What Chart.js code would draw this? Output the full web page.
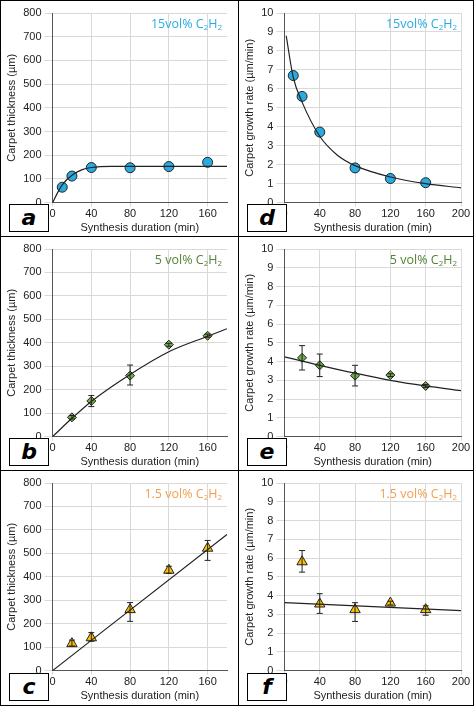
<!DOCTYPE html>
<html><head><meta charset="utf-8">
<script src="https://cdn.jsdelivr.net/npm/chart.js@4"></script>
<style>
body{margin:0;background:#fff;font-family:"Open Sans",sans-serif}
#fig{position:relative;width:472px;height:704px;border:1px solid #000}
.panel{position:absolute;box-sizing:border-box}
.panel canvas{position:absolute;left:0;top:0}
.tag{position:absolute;font-size:12.5px}
.tag sub{font-size:8px;vertical-align:-2px}
.letter{position:absolute;left:8px;bottom:4px;width:38px;height:26px;border:1px solid #000;background:#fff;
 font:italic bold 22px "DejaVu Sans",sans-serif;text-align:center;line-height:26px}
</style></head><body>
<div id="fig"></div>
<script>
// measured points
const xTime = [10, 20, 40, 80, 120, 160];
const xTime2 = [20, 40, 80, 120, 160];
const thick15 = [65, 112, 148, 147, 152, 170];
const rate15 = [6.7, 5.6, 3.72, 1.83, 1.27, 1.05];
const thick5 = [82, 152, 260, 392, 430];
const thick5Err = [[75, 90], [128, 175], [220, 305], [385, 398], [424, 437]];
const rate5 = [4.2, 3.8, 3.25, 3.28, 2.7];
const rate5Err = [[3.55, 4.85], [3.2, 4.4], [2.7, 3.8], [3.2, 3.35], [2.62, 2.78]];
const thick15b = [115, 140, 260, 428, 522];
const thick15bErr = [[105, 130], [125, 162], [210, 290], [415, 445], [470, 555]];
const rate15b = [5.8, 3.55, 3.25, 3.6, 3.25];
const rate15bErr = [[5.25, 6.4], [3.05, 4.1], [2.62, 3.62], [3.5, 3.7], [2.95, 3.45]];

// fitted curves
const fitA = [[0,0],[5,40],[10,75],[20,115],[30,138],[40,148],[60,153],[80,153],[180,153]];
const fitD = [[2,8.8],[10,6.6],[20,5.3],[40,3.5],[60,2.5],[80,1.95],[120,1.35],[160,1.0],[200,0.78]];
const fitB = [[0,0],[20,78],[40,150],[80,265],[120,362],[160,428],[180,460]];
const fitE = [[0,4.25],[40,3.8],[80,3.38],[120,3.0],[160,2.7],[200,2.45]];
const fitC = [[0,0],[180,580]];
const fitF = [[0,3.62],[200,3.2]];

const thickTicks = [0, 40, 80, 120, 160];
const rateTicks = [0, 40, 80, 120, 160, 200];

const errPlugin = {
  id: 'err',
  afterDatasetsDraw(chart) {
    const ds = chart.data.datasets[1];
    if (!ds || !ds.err) return;
    const {ctx, scales: {x, y}} = chart;
    ctx.save(); ctx.strokeStyle = '#222'; ctx.lineWidth = 1;
    ds.data.forEach((p, i) => {
      const [lo, hi] = ds.err[i];
      const px = x.getPixelForValue(p.x);
      ctx.beginPath();
      ctx.moveTo(px, y.getPixelForValue(lo)); ctx.lineTo(px, y.getPixelForValue(hi));
      [lo, hi].forEach(v => { const py = y.getPixelForValue(v); ctx.moveTo(px - 3, py); ctx.lineTo(px + 3, py); });
      ctx.stroke();
    });
    ctx.restore();
  }
};

function makePanel(o) {
  const div = document.createElement('div');
  div.className = 'panel';
  Object.assign(div.style, {left: o.left + 'px', top: o.top + 'px', width: o.w + 'px', height: o.h + 'px',
    borderRight: o.left === 0 ? '1px solid #000' : 'none', borderBottom: o.top < 450 ? '1px solid #000' : 'none'});
  const cv = document.createElement('canvas');
  cv.width = o.w; cv.height = o.h;
  div.appendChild(cv);
  const tag = document.createElement('div');
  tag.className = 'tag'; tag.style.color = o.tagColor; tag.style.right = '16px'; tag.style.top = '14px';
  tag.innerHTML = o.tag + ' C<sub>2</sub>H<sub>2</sub>';
  div.appendChild(tag);
  const let_ = document.createElement('div');
  let_.className = 'letter'; let_.textContent = o.letter;
  div.appendChild(let_);
  document.getElementById('fig').appendChild(div);

  const err = o.err;
  new Chart(cv, {
    type: 'scatter',
    data: {datasets: [
      {type: 'line', data: o.fit.map(p => ({x: p[0], y: p[1]})), borderColor: '#222', borderWidth: 1.2,
       pointRadius: 0, tension: 0.4, cubicInterpolationMode: 'monotone'},
      {data: o.xs.map((x, i) => ({x, y: o.ys[i]})), err, pointStyle: o.shape,
       pointRadius: o.shape === 'circle' ? 5 : (o.shape === 'triangle' ? 6 : 4.5),
       pointRotation: o.shape === 'rect' ? 45 : 0,
       backgroundColor: o.fill, borderColor: '#222', borderWidth: 1}
    ]},
    options: {
      animation: false, responsive: false,
      layout: {padding: {top: 12, right: 12, left: 2, bottom: 2}},
      plugins: {legend: {display: false}, tooltip: {enabled: false}},
      scales: {
        x: {type: 'linear', min: 0, max: o.xmax,
          afterBuildTicks: a => { a.ticks = o.xticks.map(v => ({value: v})); },
          grid: {color: '#d9d9d9', tickLength: 4}, border: {color: '#555'},
          ticks: {color: '#222', font: {size: 11}, padding: 1},
          title: {display: true, text: 'Synthesis duration (min)', color: '#222', font: {size: 11}, padding: 0}},
        y: {min: 0, max: o.ymax, ticks: {stepSize: o.ystep, color: '#222', font: {size: 11}},
          grid: {color: '#d9d9d9'}, border: {color: '#555'},
          title: {display: true, text: o.ytitle, color: '#222', font: {size: 11}, padding: 2}}
      }
    },
    plugins: [errPlugin]
  });
}

const W = 238, W2 = 234;
const tYT = 'Carpet thickness (µm)', rYT = 'Carpet growth rate (µm/min)';
const blue = '#29ABE2', green = '#70AD47', yellow = '#FFC000';
makePanel({left: 0, top: 0, w: W, h: 236, xs: xTime, ys: thick15, fit: fitA, xmax: 180, xticks: thickTicks, ymax: 800, ystep: 100,
  ytitle: tYT, shape: 'circle', fill: blue, tag: '15vol%', tagColor: blue, letter: 'a'});
makePanel({left: W, top: 0, w: W2, h: 236, xs: xTime, ys: rate15, fit: fitD, xmax: 200, xticks: rateTicks, ymax: 10, ystep: 1,
  ytitle: rYT, shape: 'circle', fill: blue, tag: '15vol%', tagColor: blue, letter: 'd'});
makePanel({left: 0, top: 236, w: W, h: 234, xs: xTime2, ys: thick5, err: thick5Err, fit: fitB, xmax: 180, xticks: thickTicks, ymax: 800, ystep: 100,
  ytitle: tYT, shape: 'rect', fill: green, tag: '5 vol%', tagColor: '#548235', letter: 'b'});
makePanel({left: W, top: 236, w: W2, h: 234, xs: xTime2, ys: rate5, err: rate5Err, fit: fitE, xmax: 200, xticks: rateTicks, ymax: 10, ystep: 1,
  ytitle: rYT, shape: 'rect', fill: green, tag: '5 vol%', tagColor: '#548235', letter: 'e'});
makePanel({left: 0, top: 470, w: W, h: 234, xs: xTime2, ys: thick15b, err: thick15bErr, fit: fitC, xmax: 180, xticks: thickTicks, ymax: 800, ystep: 100,
  ytitle: tYT, shape: 'triangle', fill: yellow, tag: '1.5 vol%', tagColor: '#F0A050', letter: 'c'});
makePanel({left: W, top: 470, w: W2, h: 234, xs: xTime2, ys: rate15b, err: rate15bErr, fit: fitF, xmax: 200, xticks: rateTicks, ymax: 10, ystep: 1,
  ytitle: rYT, shape: 'triangle', fill: yellow, tag: '1.5 vol%', tagColor: '#F0A050', letter: 'f'});
</script></body></html>
